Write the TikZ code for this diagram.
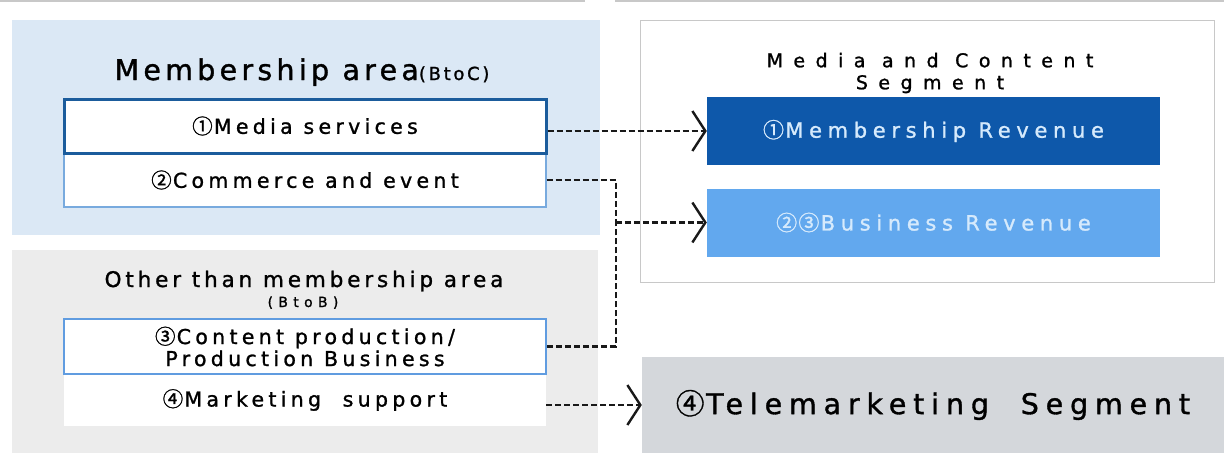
\documentclass[tikz,border=0pt]{standalone}
\usepackage{fontspec}
\setmainfont[FakeBold=1.2]{DejaVu Sans}
\newfontfamily\cjk[FakeBold=1.2]{Noto Sans CJK JP}
\usetikzlibrary{arrows.meta,positioning}

\definecolor{areablue}{RGB}{219,232,245}
\definecolor{areagray}{RGB}{236,236,236}
\definecolor{boxdark}{RGB}{27,92,156}
\definecolor{boxline}{RGB}{120,170,222}
\definecolor{boxmid}{RGB}{96,156,224}
\definecolor{revdark}{RGB}{14,88,170}
\definecolor{revlight}{RGB}{98,168,238}
\definecolor{revtext}{RGB}{214,234,252}
\definecolor{telegray}{RGB}{212,215,219}
\definecolor{framegray}{RGB}{200,200,200}

\newcommand{\trk}[3]{\fontsize{#1}{#2}\addfontfeatures{LetterSpace=#3}}
\newcommand{\cn}[1]{{\cjk #1}\kern0.06em}

\tikzset{
  item/.style={fill=white, minimum width=482pt, inner sep=0pt, align=center,
    font=\trk{20.5}{22}{21}},
  revenue/.style={minimum width=453pt, minimum height=68pt, inner sep=0pt,
    font=\trk{21}{24}{27}},
  flow/.style={line width=2.2pt, black!90, dash pattern=on 6pt off 3pt},
  chev/.style={-{Straight Barb[length=13pt,width=40pt,line width=2.4pt]}}
}

\begin{document}
\begin{tikzpicture}[x=1pt, y=-1pt]
  \useasboundingbox (0,0) rectangle (1224,453);
  \draw[framegray, line width=1.5pt] (0,1) -- (585,1) (615,1) -- (1224,1);
  \fill[areablue] (12,20) rectangle (600,235);
  \fill[areagray] (12,250) rectangle (598,453);
  \draw[framegray, fill=white] (640,20) rectangle (1214,282);

  \node[anchor=base, font=\trk{28.5}{30}{15}] (membership) at (302,80)
    {Membership area{\trk{18}{20}{15}(BtoC)}};
  \node[item, minimum height=54pt, draw=boxline, line width=1.2pt] (commerce) at (305,180) {\cn{②}Commerce and event};
  \node[item, minimum height=54pt, draw=boxdark, line width=3pt] (media) at (305,126) {\cn{①}Media services};

  \node[anchor=base, font=\trk{21.5}{24}{18}] (other) at (304,287) {Other than membership area};
  \node[anchor=base, font=\trk{14}{15}{38}] (btob) at (303,307) {(BtoB)};
  \node[item, minimum height=55pt, draw=boxmid, line width=2pt] (content) at (305,346.5)
    {\cn{③}Content production/\\Production Business};
  \node[item, minimum height=51pt] (marketing) at (305,400) {\cn{④}Marketing\ \ support};

  \node[align=center, font=\trk{19}{22}{55}] (segtitle) at (930,73) {Media and Content\\Segment};
  \node[revenue, fill=revdark, text=revtext] (memberrev) at (933.5,131) {\cn{①}Membership Revenue};
  \node[revenue, fill=revlight, text=revtext] (bizrev) at (933.5,222.5) {\cn{②}\cn{③}Business Revenue};
  \node[fill=telegray, minimum width=582pt, minimum height=96pt, inner sep=0pt,
    font=\trk{28.5}{30}{24}] (tele) at (933,405) {\cn{④}Telemarketing\ \ Segment};

  \coordinate[left=91pt of bizrev.west] (join);
  \draw[flow, chev] (media.east |- memberrev.west) -- (memberrev.west);
  \draw[flow] (commerce.east) -| (join);
  \draw[flow] (content.east) -| (join);
  \draw[flow, chev] (join) -- (bizrev.west);
  \draw[flow, chev] (marketing.east |- tele.west) -- (tele.west);
\end{tikzpicture}
\end{document}
